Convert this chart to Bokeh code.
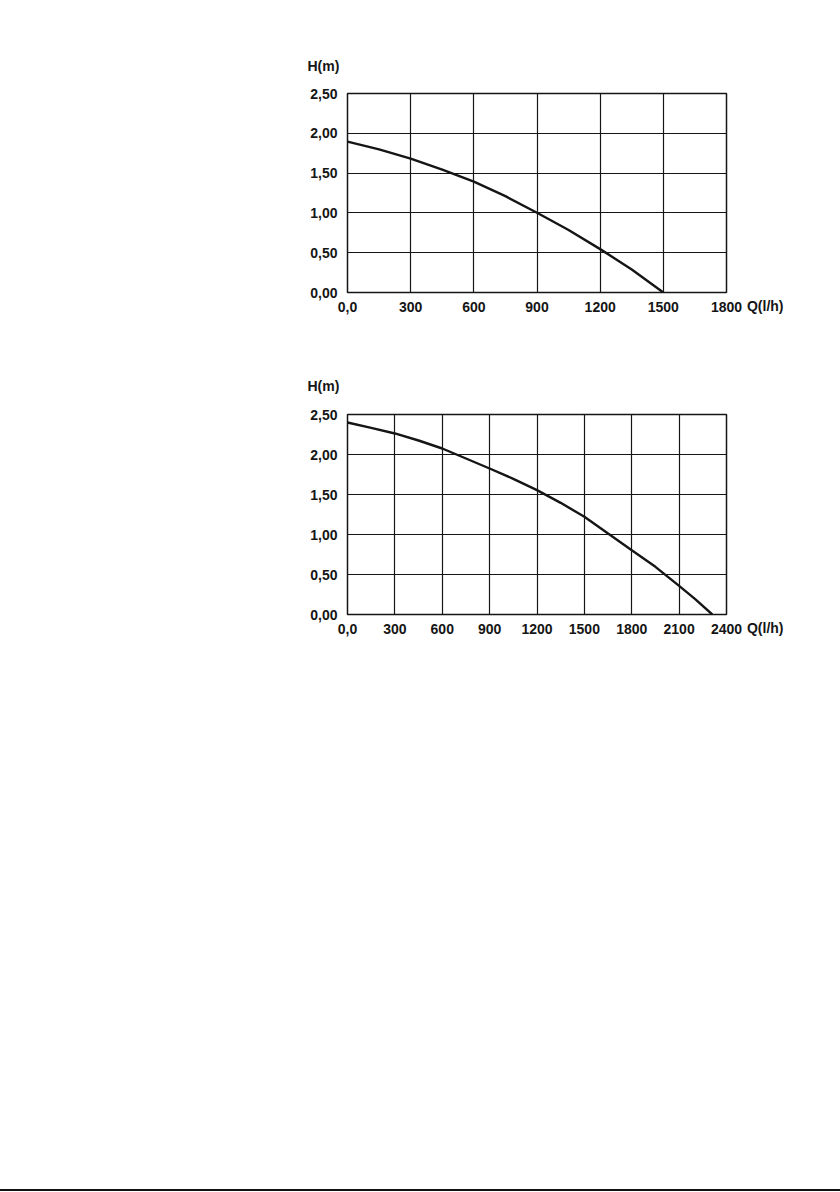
from bokeh.plotting import figure
from bokeh.layouts import column
from bokeh.models import Range1d, FixedTicker, Title, Div
from bokeh.embed import file_html
from bokeh.resources import INLINE

# ---- data ----
q_top = [0, 150, 300, 450, 600, 750, 900, 1050, 1200, 1350, 1500]
h_top = [1.895, 1.797, 1.681, 1.543, 1.392, 1.21, 1.002, 0.786, 0.545, 0.29, 0.0]

q_bot = [0, 150, 300, 450, 600, 750, 900, 1050, 1200, 1350, 1500, 1650, 1800, 1950, 2100, 2200, 2310]
h_bot = [2.40, 2.333, 2.263, 2.175, 2.075, 1.95, 1.825, 1.696, 1.554, 1.396, 1.221, 1.012, 0.804, 0.596, 0.358, 0.195, 0.0]

x_ticks_top = [0, 300, 600, 900, 1200, 1500, 1800]
x_labels_top = ["0,0", "300", "600", "900", "1200", "1500", "1800"]
x_ticks_bot = [0, 300, 600, 900, 1200, 1500, 1800, 2100, 2400]
x_labels_bot = ["0,0", "300", "600", "900", "1200", "1500", "1800", "2100", "2400"]
y_ticks = [0, 0.5, 1.0, 1.5, 2.0, 2.5]
y_labels = ["0,00", "0,50", "1,00", "1,50", "2,00", "2,50"]

y_title = "H(m)"
x_title = "Q(l/h)"

FONT = "Liberation Sans"
FSIZE = "14px"
FSTYLE = "bold"
INK = "#151515"


def make_chart(qs, hs, xt, xl, xmax, height, top, bottom, h_standoff):
    p = figure(width=824, height=height, output_backend="svg", toolbar_location=None,
               x_range=Range1d(0, xmax), y_range=Range1d(0, 2.5),
               min_border_left=347, min_border_right=98,
               min_border_top=top, min_border_bottom=bottom)
    p.background_fill_color = "white"
    p.border_fill_color = "white"
    p.outline_line_color = INK
    p.outline_line_width = 1.5
    p.line(qs, hs, line_color=INK, line_width=2.4)
    for ax, ticks, labels in ((p.xaxis[0], xt, xl), (p.yaxis[0], y_ticks, y_labels)):
        ax.ticker = FixedTicker(ticks=ticks)
        ax.major_label_overrides = {t: s for t, s in zip(ticks, labels)}
        ax.axis_line_color = None
        ax.major_tick_line_color = None
        ax.minor_tick_line_color = None
        ax.major_tick_out = 0
        ax.major_tick_in = 0
        ax.minor_tick_out = 0
        ax.minor_tick_in = 0
        ax.major_label_text_font = FONT
        ax.major_label_text_font_size = FSIZE
        ax.major_label_text_font_style = FSTYLE
        ax.major_label_text_color = INK
    p.xaxis.major_label_standoff = 9
    p.yaxis.major_label_standoff = 10
    for g in (p.xgrid[0], p.ygrid[0]):
        g.grid_line_color = INK
        g.grid_line_width = 1.2
        g.grid_line_alpha = 1.0
    p.xgrid.ticker = FixedTicker(ticks=xt)
    p.ygrid.ticker = FixedTicker(ticks=y_ticks)
    # H(m): left-aligned title shifted left of the frame
    p.title.text = y_title
    p.title.align = "left"
    p.title.offset = -40
    p.title.standoff = h_standoff
    p.title.text_font = FONT
    p.title.text_font_size = FSIZE
    p.title.text_font_style = FSTYLE
    p.title.text_color = INK
    # Q(l/h): below title pulled up beside the last x tick label
    qt = Title(text=x_title, align="right", offset=-57, standoff=-33, vertical_align="top",
               text_font=FONT, text_font_size=FSIZE, text_font_style=FSTYLE, text_color=INK)
    p.add_layout(qt, "below")
    return p


p1 = make_chart(q_top, h_top, x_ticks_top, x_labels_top, 1800, 348, 93, 56, 40)
p2 = make_chart(q_bot, h_bot, x_ticks_bot, x_labels_bot, 2400, 322, 66, 56, 42)

rule = Div(width=840, height=521, margin=(0, 0, 0, 0),
           text='<div style="width:840px;height:519px"></div>'
                '<div style="width:840px;height:2px;background:#111111"></div>')

layout = column(p1, p2, rule)
open("out.html", "w").write(file_html(layout, INLINE))
